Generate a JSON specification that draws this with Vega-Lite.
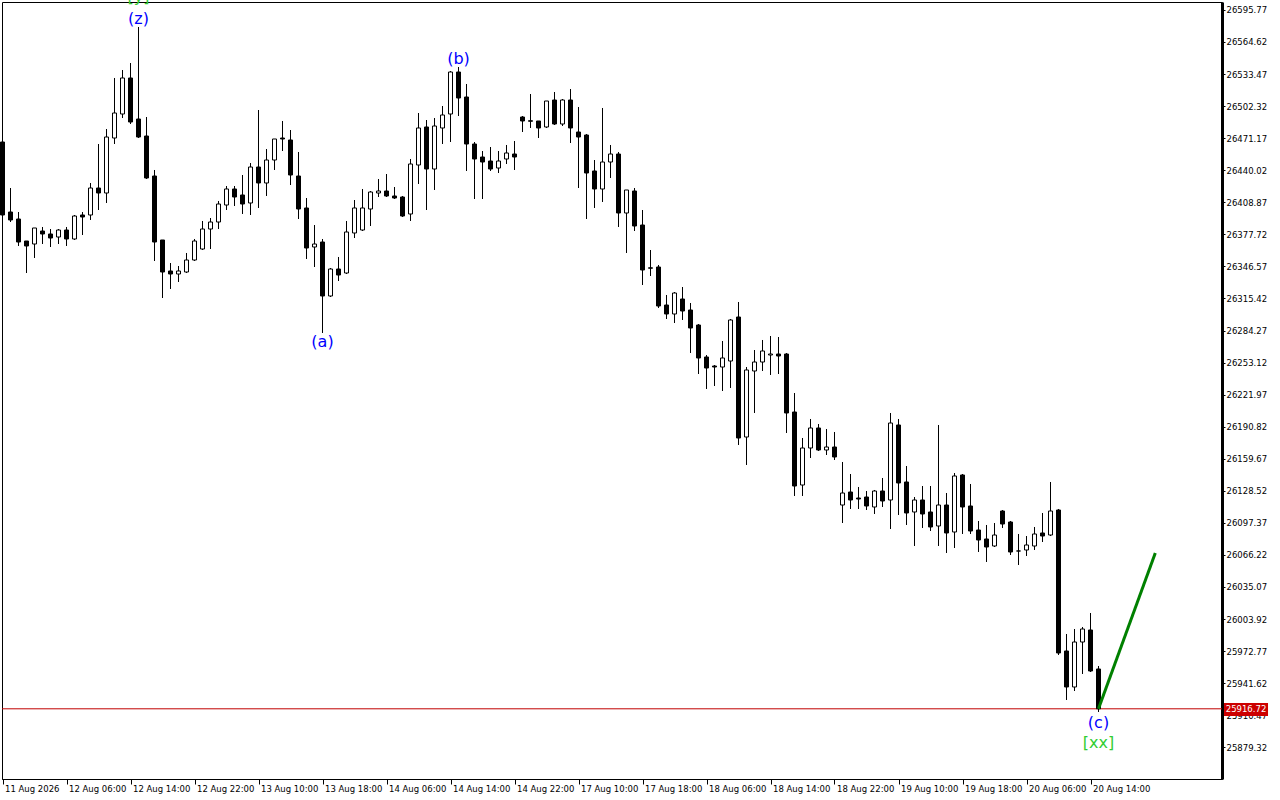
{
  "$schema": "https://vega.github.io/schema/vega-lite/v6.json",
  "width": 1220,
  "height": 777,
  "autosize": {"type": "none"},
  "padding": {"left": 2, "top": 2, "right": 58, "bottom": 21},
  "background": "white",
  "config": {
    "view": {"stroke": "black", "strokeWidth": 1},
    "scale": {"continuousPadding": 0},
    "axis": {"grid": false, "domainColor": "black", "tickColor": "black", "labelColor": "black", "labelFont": "DejaVu Sans", "labelFontSize": 8.5, "labelOverlap": false, "labelFlush": false}
  },
  "datasets": {
    "candles": [
      {"i":0,"o":26467.43,"h":26469.38,"l":26394.56,"c":26396.51},
      {"i":1,"o":26399.42,"h":26422.74,"l":26389.70,"c":26391.65},
      {"i":2,"o":26392.62,"h":26399.42,"l":26366.39,"c":26370.27},
      {"i":3,"o":26371.24,"h":26371.24,"l":26340.15,"c":26366.39},
      {"i":4,"o":26368.33,"h":26383.88,"l":26354.73,"c":26383.88},
      {"i":5,"o":26380.96,"h":26384.85,"l":26368.33,"c":26378.05},
      {"i":6,"o":26378.05,"h":26382.90,"l":26365.41,"c":26374.16},
      {"i":7,"o":26375.13,"h":26382.90,"l":26368.33,"c":26381.93},
      {"i":8,"o":26381.93,"h":26384.85,"l":26366.39,"c":26373.19},
      {"i":9,"o":26373.19,"h":26396.51,"l":26372.22,"c":26395.53},
      {"i":10,"o":26396.51,"h":26399.42,"l":26377.07,"c":26394.56},
      {"i":11,"o":26396.51,"h":26427.60,"l":26391.65,"c":26422.74},
      {"i":12,"o":26422.74,"h":26465.49,"l":26401.36,"c":26417.88},
      {"i":13,"o":26417.88,"h":26480.06,"l":26408.17,"c":26472.29},
      {"i":14,"o":26471.32,"h":26529.62,"l":26465.49,"c":26495.61},
      {"i":15,"o":26494.64,"h":26537.39,"l":26490.75,"c":26529.62},
      {"i":16,"o":26529.62,"h":26544.19,"l":26484.92,"c":26486.86},
      {"i":17,"o":26489.78,"h":26579.17,"l":26471.32,"c":26472.29},
      {"i":18,"o":26473.26,"h":26491.72,"l":26431.48,"c":26432.46},
      {"i":19,"o":26434.40,"h":26440.23,"l":26351.81,"c":26370.27},
      {"i":20,"o":26372.22,"h":26372.22,"l":26315.86,"c":26341.12},
      {"i":21,"o":26342.10,"h":26349.87,"l":26324.61,"c":26339.18},
      {"i":22,"o":26339.18,"h":26346.95,"l":26331.41,"c":26342.10},
      {"i":23,"o":26341.12,"h":26359.59,"l":26340.15,"c":26352.78},
      {"i":24,"o":26352.78,"h":26373.19,"l":26351.81,"c":26371.24},
      {"i":25,"o":26363.47,"h":26390.68,"l":26362.50,"c":26382.90},
      {"i":26,"o":26382.90,"h":26393.59,"l":26363.47,"c":26389.70},
      {"i":27,"o":26389.70,"h":26410.11,"l":26382.90,"c":26407.19},
      {"i":28,"o":26406.22,"h":26424.68,"l":26401.36,"c":26421.77},
      {"i":29,"o":26421.77,"h":26424.68,"l":26405.25,"c":26413.99},
      {"i":30,"o":26415.94,"h":26435.37,"l":26397.48,"c":26407.19},
      {"i":31,"o":26408.17,"h":26447.03,"l":26396.51,"c":26443.14},
      {"i":32,"o":26443.14,"h":26498.52,"l":26403.31,"c":26427.60},
      {"i":33,"o":26427.60,"h":26460.63,"l":26414.97,"c":26449.94},
      {"i":34,"o":26449.94,"h":26470.35,"l":26440.23,"c":26470.35},
      {"i":35,"o":26471.32,"h":26487.84,"l":26458.69,"c":26470.35},
      {"i":36,"o":26469.38,"h":26479.09,"l":26425.65,"c":26435.37},
      {"i":37,"o":26434.40,"h":26457.72,"l":26392.62,"c":26402.34},
      {"i":38,"o":26403.31,"h":26413.02,"l":26353.76,"c":26364.44},
      {"i":39,"o":26365.41,"h":26386.79,"l":26345.98,"c":26368.33},
      {"i":40,"o":26370.27,"h":26373.19,"l":26281.86,"c":26317.81},
      {"i":41,"o":26317.81,"h":26345.01,"l":26316.83,"c":26344.04},
      {"i":42,"o":26344.04,"h":26355.70,"l":26332.38,"c":26338.21},
      {"i":43,"o":26340.15,"h":26390.68,"l":26339.18,"c":26379.99},
      {"i":44,"o":26379.02,"h":26411.08,"l":26374.16,"c":26403.31},
      {"i":45,"o":26381.93,"h":26421.77,"l":26380.96,"c":26403.31},
      {"i":46,"o":26402.34,"h":26419.82,"l":26385.82,"c":26418.85},
      {"i":47,"o":26417.88,"h":26431.48,"l":26413.99,"c":26419.82},
      {"i":48,"o":26419.82,"h":26436.34,"l":26413.99,"c":26414.97},
      {"i":49,"o":26414.97,"h":26423.71,"l":26412.05,"c":26413.02},
      {"i":50,"o":26413.99,"h":26414.97,"l":26394.56,"c":26395.53},
      {"i":51,"o":26397.48,"h":26450.92,"l":26390.68,"c":26446.06},
      {"i":52,"o":26445.09,"h":26495.61,"l":26426.63,"c":26481.04},
      {"i":53,"o":26482.01,"h":26488.81,"l":26401.36,"c":26441.20},
      {"i":54,"o":26441.20,"h":26490.75,"l":26420.80,"c":26482.98},
      {"i":55,"o":26481.04,"h":26502.41,"l":26465.49,"c":26493.67},
      {"i":56,"o":26494.64,"h":26536.42,"l":26467.43,"c":26535.44},
      {"i":57,"o":26535.44,"h":26540.30,"l":26492.69,"c":26510.18},
      {"i":58,"o":26511.15,"h":26523.79,"l":26439.26,"c":26465.49},
      {"i":59,"o":26465.49,"h":26467.43,"l":26412.05,"c":26450.92},
      {"i":60,"o":26452.86,"h":26458.69,"l":26412.05,"c":26448.00},
      {"i":61,"o":26448.97,"h":26462.57,"l":26439.26,"c":26441.20},
      {"i":62,"o":26442.17,"h":26458.69,"l":26437.31,"c":26448.97},
      {"i":63,"o":26450.92,"h":26464.52,"l":26446.06,"c":26456.75},
      {"i":64,"o":26455.77,"h":26468.40,"l":26440.23,"c":26452.86},
      {"i":65,"o":26491.72,"h":26492.69,"l":26477.15,"c":26487.84},
      {"i":66,"o":26488.10,"h":26514.07,"l":26481.04,"c":26487.60},
      {"i":67,"o":26487.84,"h":26487.84,"l":26471.32,"c":26481.04},
      {"i":68,"o":26482.01,"h":26507.27,"l":26481.04,"c":26507.27},
      {"i":69,"o":26508.24,"h":26516.01,"l":26483.95,"c":26484.92},
      {"i":70,"o":26484.92,"h":26509.21,"l":26482.98,"c":26508.24},
      {"i":71,"o":26508.24,"h":26518.93,"l":26466.46,"c":26481.04},
      {"i":72,"o":26477.15,"h":26501.44,"l":26422.74,"c":26472.29},
      {"i":73,"o":26474.23,"h":26475.21,"l":26392.62,"c":26437.31},
      {"i":74,"o":26439.26,"h":26449.94,"l":26403.31,"c":26421.77},
      {"i":75,"o":26421.77,"h":26500.47,"l":26409.14,"c":26448.00},
      {"i":76,"o":26448.00,"h":26464.52,"l":26432.46,"c":26455.77},
      {"i":77,"o":26455.77,"h":26457.72,"l":26384.85,"c":26398.45},
      {"i":78,"o":26398.45,"h":26420.80,"l":26359.59,"c":26420.80},
      {"i":79,"o":26419.82,"h":26422.74,"l":26380.96,"c":26385.82},
      {"i":80,"o":26386.79,"h":26401.36,"l":26328.49,"c":26343.07},
      {"i":81,"o":26345.20,"h":26362.50,"l":26337.24,"c":26344.80},
      {"i":82,"o":26345.98,"h":26347.93,"l":26306.15,"c":26308.09},
      {"i":83,"o":26309.06,"h":26318.78,"l":26295.46,"c":26300.32},
      {"i":84,"o":26300.32,"h":26321.69,"l":26291.57,"c":26320.72},
      {"i":85,"o":26314.89,"h":26326.55,"l":26294.49,"c":26303.23},
      {"i":86,"o":26304.20,"h":26311.01,"l":26262.43,"c":26286.72},
      {"i":87,"o":26289.63,"h":26290.60,"l":26242.02,"c":26257.57},
      {"i":88,"o":26258.54,"h":26260.48,"l":26227.45,"c":26247.85},
      {"i":89,"o":26249.79,"h":26250.77,"l":26230.36,"c":26248.82},
      {"i":90,"o":26248.82,"h":26274.08,"l":26225.50,"c":26257.57},
      {"i":91,"o":26254.65,"h":26295.46,"l":26228.42,"c":26294.49},
      {"i":92,"o":26297.40,"h":26311.98,"l":26173.04,"c":26179.84},
      {"i":93,"o":26180.81,"h":26248.82,"l":26153.61,"c":26245.91},
      {"i":94,"o":26244.94,"h":26265.34,"l":26204.13,"c":26253.68},
      {"i":95,"o":26253.68,"h":26275.06,"l":26244.94,"c":26264.37},
      {"i":96,"o":26260.48,"h":26278.94,"l":26241.05,"c":26261.45},
      {"i":97,"o":26261.45,"h":26277.97,"l":26242.02,"c":26259.51},
      {"i":98,"o":26261.45,"h":26262.42,"l":26184.70,"c":26204.13},
      {"i":99,"o":26205.10,"h":26223.56,"l":26123.49,"c":26133.20},
      {"i":100,"o":26134.17,"h":26179.84,"l":26123.49,"c":26170.12},
      {"i":101,"o":26170.12,"h":26198.30,"l":26160.41,"c":26189.56},
      {"i":102,"o":26189.56,"h":26193.44,"l":26167.21,"c":26168.18},
      {"i":103,"o":26168.18,"h":26188.58,"l":26163.32,"c":26171.09},
      {"i":104,"o":26171.09,"h":26185.67,"l":26158.46,"c":26161.38},
      {"i":105,"o":26114.74,"h":26156.52,"l":26097.25,"c":26126.40},
      {"i":106,"o":26127.37,"h":26144.86,"l":26110.86,"c":26119.60},
      {"i":107,"o":26121.54,"h":26132.23,"l":26110.86,"c":26120.57},
      {"i":108,"o":26122.51,"h":26128.34,"l":26109.88,"c":26113.77},
      {"i":109,"o":26112.80,"h":26129.32,"l":26106.00,"c":26128.34},
      {"i":110,"o":26128.34,"h":26140.98,"l":26112.80,"c":26118.63},
      {"i":111,"o":26119.60,"h":26204.13,"l":26091.42,"c":26194.41},
      {"i":112,"o":26192.47,"h":26198.30,"l":26105.03,"c":26136.12},
      {"i":113,"o":26137.09,"h":26152.63,"l":26095.31,"c":26106.97},
      {"i":114,"o":26107.94,"h":26122.51,"l":26074.91,"c":26119.60},
      {"i":115,"o":26119.60,"h":26133.20,"l":26092.40,"c":26106.00},
      {"i":116,"o":26107.94,"h":26133.20,"l":26089.48,"c":26093.37},
      {"i":117,"o":26094.34,"h":26192.47,"l":26074.91,"c":26114.74},
      {"i":118,"o":26114.74,"h":26126.40,"l":26068.11,"c":26087.54},
      {"i":119,"o":26088.51,"h":26145.83,"l":26072.96,"c":26142.92},
      {"i":120,"o":26143.89,"h":26144.86,"l":26086.57,"c":26112.80},
      {"i":121,"o":26113.77,"h":26135.15,"l":26086.57,"c":26089.48},
      {"i":122,"o":26090.45,"h":26099.20,"l":26069.08,"c":26080.74},
      {"i":123,"o":26081.71,"h":26095.31,"l":26059.36,"c":26073.93},
      {"i":124,"o":26074.91,"h":26097.25,"l":26073.93,"c":26085.59},
      {"i":125,"o":26108.91,"h":26109.88,"l":26092.40,"c":26096.28},
      {"i":126,"o":26098.22,"h":26099.20,"l":26066.16,"c":26069.08},
      {"i":127,"o":26070.05,"h":26086.57,"l":26056.45,"c":26070.05},
      {"i":128,"o":26071.02,"h":26084.62,"l":26065.19,"c":26075.88},
      {"i":129,"o":26074.91,"h":26093.37,"l":26071.02,"c":26086.57},
      {"i":130,"o":26087.54,"h":26106.97,"l":26078.79,"c":26084.62},
      {"i":131,"o":26085.59,"h":26137.09,"l":26084.62,"c":26108.91},
      {"i":132,"o":26109.88,"h":26110.86,"l":25969.00,"c":25970.95},
      {"i":133,"o":25972.89,"h":25989.41,"l":25925.28,"c":25937.91},
      {"i":134,"o":25937.91,"h":25994.26,"l":25934.02,"c":25981.63},
      {"i":135,"o":25981.63,"h":25996.21,"l":25950.54,"c":25994.26},
      {"i":136,"o":25993.29,"h":26009.81,"l":25952.48,"c":25953.46},
      {"i":137,"o":25955.40,"h":25958.31,"l":25913.62,"c":25916.72}
    ],
    "waves": [
      {"i":17,"p":26586.94,"label":"(z)","degree":"minor"},
      {"i":17,"p":26608.3,"label":"[y]","degree":"intermediate"},
      {"i":40,"p":26273.11,"label":"(a)","degree":"minor"},
      {"i":57,"p":26548.08,"label":"(b)","degree":"minor"},
      {"i":137,"p":25902.45,"label":"(c)","degree":"minor"},
      {"i":137,"p":25883.50,"label":"[xx]","degree":"intermediate"}
    ],
    "projection": [
      {"i":137,"p":25916.72},
      {"i":144.1,"p":26068.11}
    ],
    "last": [
      {"i":155.44,"p":25916.72,"top":25922.37,"bottom":25909.73,"left":152.69,"right":158.19,"label":"25916.72"}
    ]
  },
  "layer": [
    {
      "data": {"name": "last"},
      "mark": {"type": "rule", "color": "#c00000", "strokeWidth": 1},
      "encoding": {
        "y": {"field": "p", "type": "quantitative", "title": null}
      }
    },
    {
      "data": {"name": "candles"},
      "mark": {"type": "rule", "color": "black", "strokeWidth": 1},
      "encoding": {
        "x": {
          "field": "i", "type": "quantitative", "title": null,
          "scale": {"domain": [-0.0625, 152.4375], "nice": false, "zero": false, "padding": 0},
          "axis": {
            "orient": "bottom",
            "values": [0,8,16,24,32,40,48,56,64,72,80,88,96,104,112,120,128,136],
            "tickCount": 40,
            "labelExpr": "['11 Aug 2026','12 Aug 06:00','12 Aug 14:00','12 Aug 22:00','13 Aug 10:00','13 Aug 18:00','14 Aug 06:00','14 Aug 14:00','14 Aug 22:00','17 Aug 10:00','17 Aug 18:00','18 Aug 06:00','18 Aug 14:00','18 Aug 22:00','19 Aug 10:00','19 Aug 18:00','20 Aug 06:00','20 Aug 14:00'][round(datum.value/8)]",
            "tickSize": 5,
            "labelAlign": "left",
            "labelBaseline": "top",
            "labelPadding": 0,
            "labelOffset": 2,
            "domainWidth": 1
          }
        },
        "y": {
          "field": "l", "type": "quantitative", "title": null,
          "scale": {"domain": [25848.52, 26603.46], "nice": false, "zero": false, "padding": 0},
          "axis": {
            "orient": "right",
            "values": [26595.77,26564.62,26533.47,26502.32,26471.17,26440.02,26408.87,26377.72,26346.57,26315.42,26284.27,26253.12,26221.97,26190.82,26159.67,26128.52,26097.37,26066.22,26035.07,26003.92,25972.77,25941.62,25910.47,25879.32],
            "tickCount": 40,
            "format": ".2f",
            "tickSize": 3,
            "labelPadding": 1,
            "labelAlign": "left",
            "labelBaseline": "middle",
            "domainWidth": 3
          }
        },
        "y2": {"field": "h"}
      }
    },
    {
      "data": {"name": "candles"},
      "mark": {"type": "bar", "size": 4, "stroke": "black", "strokeWidth": 1},
      "encoding": {
        "x": {"field": "i", "type": "quantitative", "title": null},
        "y": {"field": "o", "type": "quantitative", "title": null},
        "y2": {"field": "c"},
        "fill": {"condition": {"test": "datum.o > datum.c", "value": "black"}, "value": "white"}
      }
    },
    {
      "data": {"name": "projection"},
      "mark": {"type": "line", "color": "#008000", "strokeWidth": 3},
      "encoding": {
        "x": {"field": "i", "type": "quantitative", "title": null},
        "y": {"field": "p", "type": "quantitative", "title": null}
      }
    },
    {
      "data": {"name": "waves"},
      "mark": {"type": "text", "font": "DejaVu Sans", "fontSize": 16, "align": "center", "baseline": "middle"},
      "encoding": {
        "x": {"field": "i", "type": "quantitative", "title": null},
        "y": {"field": "p", "type": "quantitative", "title": null},
        "text": {"field": "label"},
        "color": {"field": "degree", "type": "nominal", "scale": {"domain": ["minor", "intermediate"], "range": ["#0000ff", "#32cd32"]}, "legend": null}
      }
    },
    {
      "data": {"name": "last"},
      "mark": {"type": "rect", "fill": "#cc0000"},
      "encoding": {
        "x": {"field": "left", "type": "quantitative", "title": null},
        "x2": {"field": "right"},
        "y": {"field": "top", "type": "quantitative", "title": null},
        "y2": {"field": "bottom"}
      }
    },
    {
      "data": {"name": "last"},
      "mark": {"type": "text", "color": "white", "font": "DejaVu Sans", "fontSize": 8.5, "align": "center", "baseline": "middle"},
      "encoding": {
        "x": {"field": "i", "type": "quantitative", "title": null},
        "y": {"field": "p", "type": "quantitative", "title": null},
        "text": {"field": "label"}
      }
    }
  ]
}
